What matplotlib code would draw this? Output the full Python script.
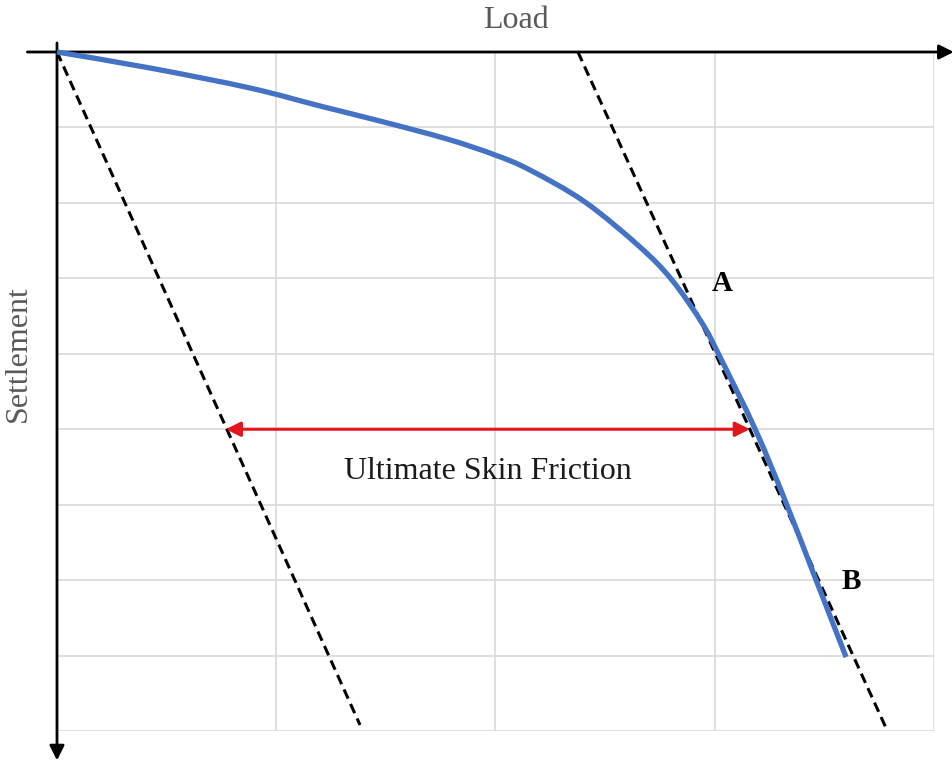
import matplotlib
matplotlib.use("Agg")
import matplotlib.pyplot as plt
import numpy as np
from matplotlib.path import Path
from matplotlib.patches import PathPatch

# Load–settlement curve (load in grid columns, settlement in grid rows, downward)
load_curve = [0.0, 0.424, 0.880, 1.200, 1.473, 1.779, 1.998, 2.157, 2.408,
              2.659, 2.805, 2.942, 3.024, 3.184, 3.320, 3.462, 3.599]
settle_curve = [0.0, 0.212, 0.477, 0.716, 0.915, 1.153, 1.365, 1.564, 1.988,
                2.585, 3.023, 3.592, 4.043, 4.997, 5.938, 6.999, 8.020]

# Parallel construction lines
elastic_line_x = [0.0, 1.382]
elastic_line_y = [0.0, 8.92]
tangent_line_x = [2.376, 3.786]
tangent_line_y = [0.0, 8.99]

# Skin-friction span
friction_level = 5.0
friction_start = 0.77
friction_end = 3.16

# Point labels
point_names = ["A", "B"]
point_x = [3.033, 3.621]
point_y = [3.062, 7.012]


def smooth_path(xs, ys):
    """Cubic Bezier path through the points (Catmull-Rom tangents)."""
    p = np.column_stack([xs, ys])
    n = len(p)
    verts = [p[0]]
    codes = [Path.MOVETO]
    for i in range(n - 1):
        p0 = p[i - 1] if i > 0 else p[i]
        p3 = p[i + 2] if i + 2 < n else p[i + 1]
        c1 = p[i] + (p[i + 1] - p0) / 6.0
        c2 = p[i + 1] - (p3 - p[i]) / 6.0
        verts += [c1, c2, p[i + 1]]
        codes += [Path.CURVE4] * 3
    return Path(verts, codes)


W, H = 953, 764
fig = plt.figure(figsize=(W / 100, H / 100), dpi=100)
x0, x1, y0, y1 = 57, 934, 52, 731
ax = fig.add_axes([x0 / W, 1 - y1 / H, (x1 - x0) / W, (y1 - y0) / H])
ax.set_xlim(0, 4)
ax.set_ylim(9, 0)
ax.set_xticks(range(5))
ax.set_yticks(range(10))
ax.grid(True, color="#d9d9d9", lw=1.2)
ax.tick_params(length=0, labelbottom=False, labelleft=False)
for s in ax.spines.values():
    s.set_visible(False)

serif = "Liberation Serif"

# Axes with arrow heads
ax.annotate("", xy=(4.09, 0), xytext=(-0.135, 0), annotation_clip=False,
            arrowprops=dict(arrowstyle="-|>", color="black", lw=2,
                            mutation_scale=22, shrinkA=0, shrinkB=0))
ax.annotate("", xy=(0, 9.39), xytext=(0, -0.12), annotation_clip=False,
            arrowprops=dict(arrowstyle="-|>", color="black", lw=2,
                            mutation_scale=22, shrinkA=0, shrinkB=0))

# Dashed construction lines
dash = (0, (3.3, 1.9))
ax.plot(elastic_line_x, elastic_line_y, color="black", lw=2.2, ls=dash,
        clip_on=False, zorder=3)
ax.plot(tangent_line_x, tangent_line_y, color="black", lw=2.2, ls=dash,
        clip_on=False, zorder=3)

# Load-settlement curve
ax.add_patch(PathPatch(smooth_path(load_curve, settle_curve), facecolor="none",
                       edgecolor="#4472c4", lw=3.8, capstyle="butt",
                       zorder=4, clip_on=False))

# Ultimate skin friction arrow
ax.annotate("", xy=(friction_end, friction_level), xytext=(friction_start, friction_level),
            arrowprops=dict(arrowstyle="<|-|>", color="#e3161b", lw=2.2,
                            mutation_scale=22, shrinkA=0, shrinkB=0), zorder=5)
ax.text((friction_start + friction_end) / 2, 5.56, "Ultimate Skin Friction",
        ha="center", va="center", fontsize=23, family=serif, color="#1a1a1a")

for name, px, py in zip(point_names, point_x, point_y):
    ax.text(px, py, name, ha="center", va="center", fontsize=21,
            family=serif, fontweight="bold", color="black")

# Axis titles
ax.text(2.094, -0.42, "Load", ha="center", va="center", fontsize=23,
        family=serif, color="#595959")
ax.text(-0.175, 4.0, "Settlement", ha="center", va="center", fontsize=23,
        family=serif, color="#595959", rotation=90)

fig.savefig("out.png", dpi=100)
